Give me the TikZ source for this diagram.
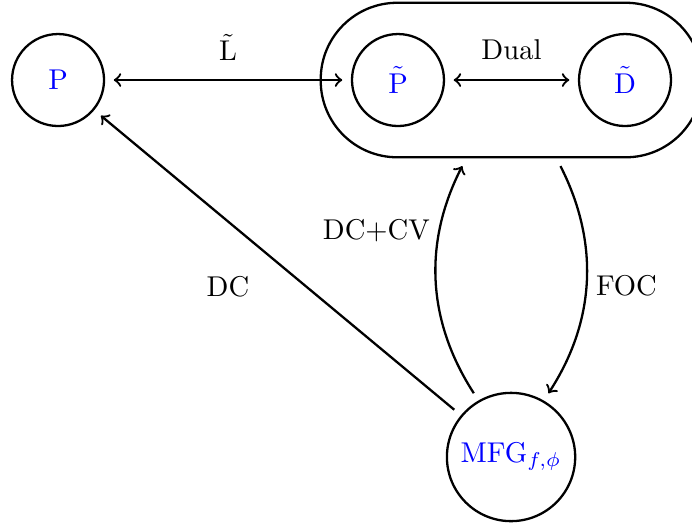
\documentclass[tikz,border=0pt]{standalone}
\usepackage{tikz}
\usepackage{amsmath}
\tikzstyle{state node} = [circle,draw,minimum size=1.13cm,inner sep=3.33pt,text=blue]
\tikzstyle{group node} = [draw,inner sep=0.37cm,rounded corners=0.94cm]
\usetikzlibrary{fit}

\begin{document}
\begin{tikzpicture}[font=\normalsize,
                    thick
                    ]
\useasboundingbox (0,0) rectangle (8.501,6.413);

    % the three states on top
    \node(P)[state node] at (0.713,5.430){P};
    \node(Pt)[state node] at (4.889,5.430){$\tilde{\mathrm{P}}$};
    \node(Dt)[state node] at (7.678,5.430){$\tilde{\mathrm{D}}$};
    % box round the dual pair
    \node(grp)[group node, fit=(Pt)(Dt)]{};
    % the game
    \node(mfg)[state node] at (6.278,0.799){$\mathrm{MFG}_{f,\phi}$};

    \draw[<->, shorten >=3pt, shorten <=3pt](P)--(Pt) node[midway, above=3pt]{$\tilde{\mathrm{L}}$};
    \draw[<->, shorten >=3pt, shorten <=3pt](Pt)--(Dt) node[midway, above=3.5pt]{Dual};
    \draw[->, shorten >=3pt, shorten <=3pt](mfg)--(P) node[midway, xshift=-0.61cm, yshift=-0.30cm]{DC};
    \draw[->, shorten >=3pt, shorten <=3pt](mfg)to[bend left] node[pos=0.71, left]{DC+CV} (grp);
    \draw[->, shorten >=3pt, shorten <=3pt](grp)to[bend left] node[pos=0.52, right]{FOC} (mfg);

\end{tikzpicture}
\end{document}
